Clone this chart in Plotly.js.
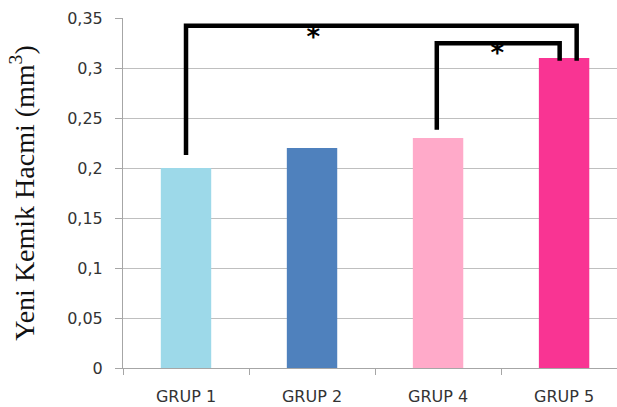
<!DOCTYPE html>
<html>
<head>
<meta charset="utf-8">
<script src="https://cdn.plot.ly/plotly-3.0.1.min.js"></script>
<style>html,body{margin:0;padding:0;background:#fff;}#chart{width:617px;height:407px;}</style>
</head>
<body>
<div id="chart"></div>
<script>
// ---- data ----
var categories = ["GRUP 1", "GRUP 2", "GRUP 4", "GRUP 5"];
var values = [0.20, 0.22, 0.23, 0.31];
var barColors = ["#9DD9E9", "#4F81BD", "#FFAAC9", "#F93493"];
var yTickVals = [0, 0.05, 0.1, 0.15, 0.2, 0.25, 0.3, 0.35];
var yTickText = ["0", "0,05", "0,1", "0,15", "0,2", "0,25", "0,3", "0,35"];
// significance brackets (category index positions, values)
var bracket1X = [0, 0, 3.10, 3.10];
var bracket1Y = [0.219, 0.352, 0.352, 0.316];
var bracket2X = [1.99, 1.99, 2.965, 2.965];
var bracket2Y = [0.245, 0.334, 0.334, 0.316];
var starX = [1.01, 2.47];
var starY = [0.338, 0.321];
var starText = ["*", "*"];

var plotH = 407 - 39 - 8;
var mainTop = 350 / plotH;

var traces = [
  {
    type: "bar", x: categories, y: values, width: 0.4,
    marker: {color: barColors, line: {width: 0}},
    xaxis: "x", yaxis: "y", hoverinfo: "none", showlegend: false
  },
  {
    type: "scatter", mode: "lines", x: bracket1X, y: bracket1Y,
    line: {color: "#000", width: 4.5}, xaxis: "x2", yaxis: "y2", showlegend: false, hoverinfo: "none"
  },
  {
    type: "scatter", mode: "lines", x: bracket2X, y: bracket2Y,
    line: {color: "#000", width: 4.5}, xaxis: "x2", yaxis: "y2", showlegend: false, hoverinfo: "none"
  },
  {
    type: "scatter", mode: "text", x: starX, y: starY, text: starText,
    textfont: {family: "DejaVu Sans", size: 26, color: "#000", weight: "bold"},
    xaxis: "x2", yaxis: "y2", showlegend: false, hoverinfo: "none", cliponaxis: false
  }
];

var layout = {
  width: 617, height: 407,
  margin: {l: 123, r: 0, t: 8, b: 39},
  paper_bgcolor: "#fff", plot_bgcolor: "#fff",
  showlegend: false,
  xaxis: {
    type: "category", range: [-0.5, 3.42],
    showline: true, linecolor: "#A6A6A6", linewidth: 1,
    ticks: "outside", tickson: "boundaries", ticklen: 6, tickcolor: "#A6A6A6",
    tickfont: {family: "DejaVu Sans", size: 16, color: "#333333"},
    ticklabelstandoff: 14,
    showgrid: false, zeroline: false, fixedrange: true
  },
  yaxis: {
    domain: [0, mainTop], range: [0, 0.35],
    tickvals: yTickVals, ticktext: yTickText,
    showline: true, linecolor: "#A6A6A6", linewidth: 1,
    ticks: "outside", ticklen: 7, tickcolor: "#A6A6A6",
    showgrid: true, gridcolor: "#BFBFBF", gridwidth: 1, zeroline: false,
    tickfont: {family: "DejaVu Sans", size: 16, color: "#333333"},
    ticklabelstandoff: 9,
    title: {text: "Yeni Kemik Hacmi (mm<sup>3</sup>)", font: {family: "Liberation Serif", size: 28, color: "#111111"}, standoff: 24},
    fixedrange: true
  },
  xaxis2: {overlaying: "x", anchor: "y2", type: "linear", range: [-0.5, 3.42], visible: false, fixedrange: true},
  yaxis2: {overlaying: "y", anchor: "x2", domain: [0, 1], range: [0, plotH / 1000], visible: false, fixedrange: true}
};

Plotly.newPlot("chart", traces, layout, {displayModeBar: false, staticPlot: true});
</script>
</body>
</html>
